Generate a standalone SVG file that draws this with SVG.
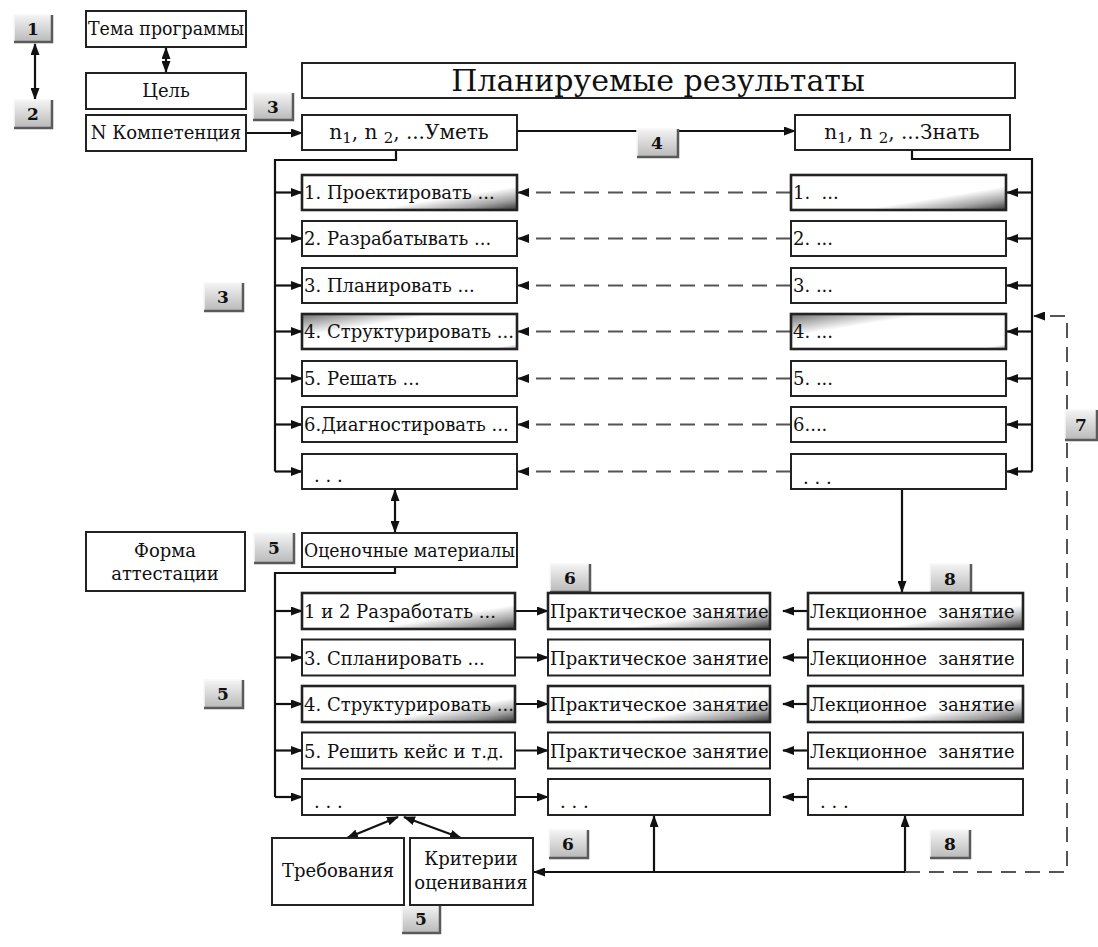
<svg xmlns="http://www.w3.org/2000/svg" width="1098" height="947" viewBox="0 0 1098 947" font-family="'DejaVu Serif', 'Liberation Serif', serif">
<style>
text{font-family:'DejaVu Serif','Liberation Serif',serif;fill:#111;white-space:pre}
.bx{fill:#fff;stroke:#222;stroke-width:2}
.bg{stroke:#222;stroke-width:2.6}
.t{font-size:18px}
.tc{font-size:18px;text-anchor:middle}
.bd{fill:url(#gb);stroke:none}
.be{fill:none;stroke:#5a5a5a;stroke-width:2.5}
.bl{fill:none;stroke:#f8f8f8;stroke-width:1.5}
.bt{font-size:17px;font-weight:bold;text-anchor:middle}
.c{fill:none;stroke:#111;stroke-width:2.2}
.ca{fill:none;stroke:#111;stroke-width:2.2;marker-end:url(#ah)}
.cb{fill:none;stroke:#111;stroke-width:2.2;marker-start:url(#ah);marker-end:url(#ah)}
.d{fill:none;stroke:#555;stroke-width:2;stroke-dasharray:15 9;marker-end:url(#ah)}
</style>
<defs>
<marker id="ah" viewBox="0 0 12 9" refX="11" refY="4.5" markerWidth="12" markerHeight="9" markerUnits="userSpaceOnUse" orient="auto-start-reverse"><path d="M0,0 L12,4.5 L0,9 z" fill="#111"/></marker>
<linearGradient id="gb" x1="0" y1="0" x2="0" y2="1"><stop offset="0" stop-color="#f4f4f4"/><stop offset="1" stop-color="#b9b9b9"/></linearGradient>
<linearGradient id="gr" x1="0" y1="0" x2="1" y2="1"><stop offset="0" stop-color="#fff"/><stop offset="0.66" stop-color="#fff"/><stop offset="0.85" stop-color="#a0a0a0"/><stop offset="1" stop-color="#333"/></linearGradient>
<linearGradient id="gl" x1="0" y1="0" x2="1" y2="1"><stop offset="0" stop-color="#707070"/><stop offset="0.32" stop-color="#fff"/><stop offset="0.93" stop-color="#fff"/><stop offset="1" stop-color="#999"/></linearGradient>
</defs>
<rect width="1098" height="947" fill="#fff"/>

<g id="connectors">
<path class="cb" d="M35,44 V99"/>
<path class="cb" d="M166,48 V72"/>
<path class="ca" d="M246,133 H302"/>
<path class="ca" d="M517,131 H795"/>
<path class="c" d="M396,150 V160 H275 V471.5"/>
<path class="ca" d="M275,192.5 H302"/>
<path class="ca" d="M275,238.5 H302"/>
<path class="ca" d="M275,285.5 H302"/>
<path class="ca" d="M275,331.5 H302"/>
<path class="ca" d="M275,378.5 H302"/>
<path class="ca" d="M275,424.5 H302"/>
<path class="ca" d="M275,471.5 H302"/>
<path class="c" d="M912,150 V159 H1032 V471.5"/>
<path class="ca" d="M1032,192.5 H1007"/>
<path class="ca" d="M1032,238.5 H1007"/>
<path class="ca" d="M1032,285.5 H1007"/>
<path class="ca" d="M1032,331.5 H1007"/>
<path class="ca" d="M1032,378.5 H1007"/>
<path class="ca" d="M1032,424.5 H1007"/>
<path class="ca" d="M1032,471.5 H1007"/>
<path class="d" d="M791,192.5 H518"/>
<path class="d" d="M791,238.5 H518"/>
<path class="d" d="M791,285.5 H518"/>
<path class="d" d="M791,331.5 H518"/>
<path class="d" d="M791,378.5 H518"/>
<path class="d" d="M791,424.5 H518"/>
<path class="d" d="M791,471.5 H518"/>
<path class="cb" d="M395,490 V532"/>
<path class="c" d="M395,567 V573 H275 V797"/>
<path class="ca" d="M275,611 H302"/>
<path class="ca" d="M275,657.5 H302"/>
<path class="ca" d="M275,704 H302"/>
<path class="ca" d="M275,750.5 H302"/>
<path class="ca" d="M275,797 H302"/>
<path class="ca" d="M515,611 H548"/>
<path class="ca" d="M515,657.5 H548"/>
<path class="ca" d="M515,704 H548"/>
<path class="ca" d="M515,750.5 H548"/>
<path class="ca" d="M515,797 H548"/>
<path class="ca" d="M808,611 H783"/>
<path class="ca" d="M808,657.5 H783"/>
<path class="ca" d="M808,704 H783"/>
<path class="ca" d="M808,750.5 H783"/>
<path class="ca" d="M808,797 H783"/>
<path class="ca" d="M902,490 V592"/>
<path class="cb" d="M398,817 L347,838"/>
<path class="cb" d="M404,817 L461,838"/>
<path class="ca" d="M905,872 H534"/>
<path class="ca" d="M905,872 V816"/>
<path class="ca" d="M654,872 V816"/>
<path class="d" d="M905,872 H1067 V316 H1034"/>
</g>

<g id="badges">
<g id="b1"><rect class="bd" x="14" y="15" width="38" height="27"/><path class="bl" d="M14,42 V15 H52"/><path class="be" d="M14,42 H52 V15"/><text class="bt" x="33" y="35">1</text></g>
<g id="b2"><rect class="bd" x="14" y="100" width="38" height="28"/><path class="bl" d="M14,128 V100 H52"/><path class="be" d="M14,128 H52 V100"/><text class="bt" x="33" y="120">2</text></g>
<g id="b3a"><rect class="bd" x="253" y="93" width="40" height="27"/><path class="bl" d="M253,120 V93 H293"/><path class="be" d="M253,120 H293 V93"/><text class="bt" x="273" y="113">3</text></g>
<g id="b4"><rect class="bd" x="637" y="129" width="41" height="28"/><path class="bl" d="M637,157 V129 H678"/><path class="be" d="M637,157 H678 V129"/><text class="bt" x="657" y="149">4</text></g>
<g id="b3b"><rect class="bd" x="204" y="283" width="39" height="28"/><path class="bl" d="M204,311 V283 H243"/><path class="be" d="M204,311 H243 V283"/><text class="bt" x="223" y="303">3</text></g>
<g id="b7"><rect class="bd" x="1065" y="410" width="33" height="30"/><path class="bl" d="M1065,440 V410 H1098"/><path class="be" d="M1065,440 H1097 V410"/><text class="bt" x="1081" y="431">7</text></g>
<g id="b5a"><rect class="bd" x="254" y="533" width="40" height="30"/><path class="bl" d="M254,563 V533 H294"/><path class="be" d="M254,563 H294 V533"/><text class="bt" x="274" y="554">5</text></g>
<g id="b6a"><rect class="bd" x="550" y="564" width="40" height="28"/><path class="bl" d="M550,592 V564 H590"/><path class="be" d="M550,592 H590 V564"/><text class="bt" x="570" y="584">6</text></g>
<g id="b8a"><rect class="bd" x="930" y="564" width="41" height="29"/><path class="bl" d="M930,593 V564 H971"/><path class="be" d="M930,593 H971 V564"/><text class="bt" x="950" y="585">8</text></g>
<g id="b5b"><rect class="bd" x="204" y="680" width="39" height="28"/><path class="bl" d="M204,708 V680 H243"/><path class="be" d="M204,708 H243 V680"/><text class="bt" x="223" y="700">5</text></g>
<g id="b6b"><rect class="bd" x="549" y="830" width="39" height="28"/><path class="bl" d="M549,858 V830 H588"/><path class="be" d="M549,858 H588 V830"/><text class="bt" x="568" y="850">6</text></g>
<g id="b8b"><rect class="bd" x="930" y="830" width="40" height="28"/><path class="bl" d="M930,858 V830 H970"/><path class="be" d="M930,858 H970 V830"/><text class="bt" x="950" y="850">8</text></g>
<g id="b5c"><rect class="bd" x="402" y="905" width="38" height="28"/><path class="bl" d="M402,933 V905 H440"/><path class="be" d="M402,933 H440 V905"/><text class="bt" x="421" y="925">5</text></g>
</g>

<g id="n-tema"><rect class="bx" x="86" y="11" width="160" height="36"/><text class="tc" x="166" y="35" textLength="156" lengthAdjust="spacingAndGlyphs">Тема программы</text></g>
<g id="n-cel"><rect class="bx" x="86" y="73" width="160" height="36"/><text class="tc" x="166" y="97">Цель</text></g>
<g id="n-komp"><rect class="bx" x="86" y="115" width="160" height="36"/><text class="tc" x="166" y="139">N Компетенция</text></g>
<g id="n-plan"><rect class="bx" x="302" y="63" width="713" height="35"/><text x="658" y="91" style="font-size:30px;text-anchor:middle">Планируемые результаты</text></g>
<g id="n-umet"><rect class="bx" x="302" y="115" width="215" height="35"/><text x="409" y="139" style="font-size:20px;text-anchor:middle">n<tspan dy="4" style="font-size:15px">1</tspan><tspan dy="-4">, n </tspan><tspan dy="4" style="font-size:15px">2</tspan><tspan dy="-4">, ...Уметь</tspan></text></g>
<g id="n-znat"><rect class="bx" x="795" y="115" width="215" height="35"/><text x="902" y="139" style="font-size:20px;text-anchor:middle">n<tspan dy="4" style="font-size:15px">1</tspan><tspan dy="-4">, n </tspan><tspan dy="4" style="font-size:15px">2</tspan><tspan dy="-4">, ...Знать</tspan></text></g>

<g id="u1"><rect class="bg" x="302" y="175" width="215" height="35" fill="url(#gr)"/><text class="t" x="304" y="199">1. Проектировать ...</text></g>
<g id="u2"><rect class="bx" x="302" y="221" width="215" height="35"/><text class="t" x="304" y="245">2. Разрабатывать ...</text></g>
<g id="u3"><rect class="bx" x="302" y="268" width="215" height="35"/><text class="t" x="304" y="292">3. Планировать ...</text></g>
<g id="u4"><rect class="bg" x="302" y="314" width="215" height="35" fill="url(#gl)"/><text class="t" x="304" y="338">4. Структурировать ...</text></g>
<g id="u5"><rect class="bx" x="302" y="361" width="215" height="35"/><text class="t" x="304" y="385">5. Решать ...</text></g>
<g id="u6"><rect class="bx" x="302" y="407" width="215" height="35"/><text class="t" x="304" y="431">6.Диагностировать ...</text></g>
<g id="u7"><rect class="bx" x="302" y="454" width="215" height="35"/><text class="t" x="314" y="482">. . .</text></g>

<g id="z1"><rect class="bg" x="791" y="175" width="215" height="35" fill="url(#gr)"/><text class="t" x="793" y="199">1.  ...</text></g>
<g id="z2"><rect class="bx" x="791" y="221" width="215" height="35"/><text class="t" x="793" y="245">2. ...</text></g>
<g id="z3"><rect class="bx" x="791" y="268" width="215" height="35"/><text class="t" x="793" y="292">3. ...</text></g>
<g id="z4"><rect class="bg" x="791" y="314" width="215" height="35" fill="url(#gl)"/><text class="t" x="793" y="338">4. ...</text></g>
<g id="z5"><rect class="bx" x="791" y="361" width="215" height="35"/><text class="t" x="793" y="385">5. ...</text></g>
<g id="z6"><rect class="bx" x="791" y="407" width="215" height="35"/><text class="t" x="793" y="431">6....</text></g>
<g id="z7"><rect class="bx" x="791" y="454" width="215" height="35"/><text class="t" x="803" y="484">. . .</text></g>

<g id="n-forma"><rect class="bx" x="86" y="532" width="159" height="59"/><text class="tc" x="165" y="557">Форма</text><text class="tc" x="165" y="580">аттестации</text></g>
<g id="n-ocen"><rect class="bx" x="302" y="533" width="215" height="34"/><text class="t" x="304" y="557" textLength="211" lengthAdjust="spacingAndGlyphs">Оценочные материалы</text></g>

<g id="o1"><rect class="bg" x="302" y="593" width="213" height="36" fill="url(#gr)"/><text class="t" x="304" y="618">1 и 2 Разработать ...</text></g>
<g id="o2"><rect class="bx" x="302" y="639.5" width="213" height="36"/><text class="t" x="304" y="664.5">3. Спланировать ...</text></g>
<g id="o3"><rect class="bg" x="302" y="686" width="213" height="36" fill="url(#gr)"/><text class="t" x="304" y="711">4. Структурировать ...</text></g>
<g id="o4"><rect class="bx" x="302" y="732.5" width="213" height="36"/><text class="t" x="304" y="757.5">5. Решить кейс и т.д.</text></g>
<g id="o5"><rect class="bx" x="302" y="779" width="213" height="36"/><text class="t" x="314" y="808">. . .</text></g>

<g id="p1"><rect class="bg" x="548" y="593" width="222" height="36" fill="url(#gr)"/><text class="t" x="550" y="618">Практическое занятие</text></g>
<g id="p2"><rect class="bx" x="548" y="639.5" width="222" height="36"/><text class="t" x="550" y="664.5">Практическое занятие</text></g>
<g id="p3"><rect class="bg" x="548" y="686" width="222" height="36" fill="url(#gr)"/><text class="t" x="550" y="711">Практическое занятие</text></g>
<g id="p4"><rect class="bx" x="548" y="732.5" width="222" height="36"/><text class="t" x="550" y="757.5">Практическое занятие</text></g>
<g id="p5"><rect class="bx" x="548" y="779" width="222" height="36"/><text class="t" x="560" y="808">. . .</text></g>

<g id="l1"><rect class="bg" x="808" y="593" width="215" height="36" fill="url(#gr)"/><text class="t" x="810" y="618">Лекционное  занятие</text></g>
<g id="l2"><rect class="bx" x="808" y="639.5" width="215" height="36"/><text class="t" x="810" y="664.5">Лекционное  занятие</text></g>
<g id="l3"><rect class="bg" x="808" y="686" width="215" height="36" fill="url(#gr)"/><text class="t" x="810" y="711">Лекционное  занятие</text></g>
<g id="l4"><rect class="bx" x="808" y="732.5" width="215" height="36"/><text class="t" x="810" y="757.5">Лекционное  занятие</text></g>
<g id="l5"><rect class="bx" x="808" y="779" width="215" height="36"/><text class="t" x="820" y="808">. . .</text></g>

<g id="n-treb"><rect class="bx" x="272" y="838" width="132" height="67"/><text class="tc" x="338" y="877">Требования</text></g>
<g id="n-krit"><rect class="bx" x="410" y="838" width="123" height="67"/><text class="tc" x="471" y="865">Критерии</text><text class="tc" x="471" y="889">оценивания</text></g>
</svg>
